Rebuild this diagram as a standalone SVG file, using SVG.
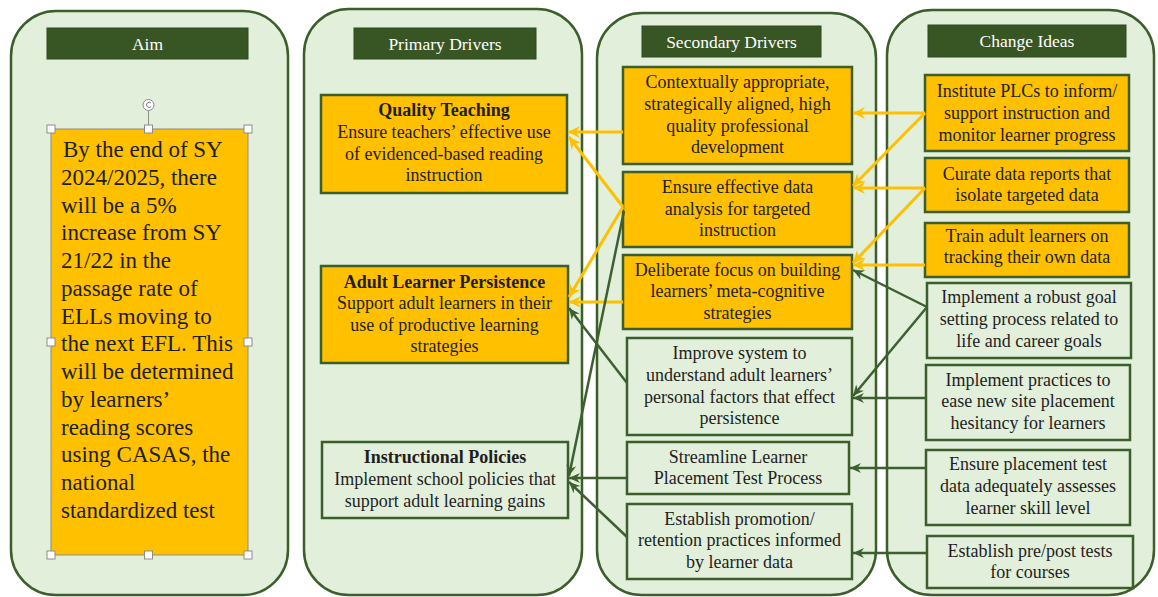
<svg xmlns="http://www.w3.org/2000/svg" width="1158" height="597" viewBox="0 0 1158 597">
  <style>
    .panel { fill: #e2efda; stroke: #3b5e2b; stroke-width: 2.5; }
    .hdr { fill: #375623; stroke: #2f4a1e; stroke-width: 1; }
    .hdrt { fill: #ffffff; font-family: "Liberation Serif", serif; font-size: 17.5px; text-anchor: middle; }
    .bo { fill: #ffc000; stroke: #3b5e2b; stroke-width: 2.5; }
    .bg { fill: #e2efda; stroke: #3b5e2b; stroke-width: 2.5; }
    .t { font-family: "Liberation Serif", serif; font-size: 18px; fill: #1e1e1e; text-anchor: middle; }
    .b { font-weight: bold; }
    .aim { font-family: "Liberation Serif", serif; font-size: 23px; fill: #1e1e1e; }
    .y { stroke: #ffc000; stroke-width: 3; fill: none; marker-end: url(#ay); }
    .g { stroke: #3d6030; stroke-width: 2.5; fill: none; marker-end: url(#ag); }
    .h { fill: #ffffff; stroke: #8c8c8c; stroke-width: 1; }
  </style>
  <defs>
    <marker id="ay" markerUnits="userSpaceOnUse" markerWidth="14" markerHeight="14" refX="12" refY="7" orient="auto">
      <path d="M0,1 L12,7 L0,13 L4,7 z" fill="#ffc000"/>
    </marker>
    <marker id="ag" markerUnits="userSpaceOnUse" markerWidth="14" markerHeight="14" refX="11" refY="6" orient="auto">
      <path d="M0,1 L11,6 L0,11 L3.5,6 z" fill="#3d6030"/>
    </marker>
  </defs>

  <!-- column panels -->
  <g id="panels">
    <rect class="panel" x="11" y="11" width="277" height="584" rx="45" ry="45"/>
    <rect class="panel" x="304" y="9" width="278" height="586" rx="45" ry="45"/>
    <rect class="panel" x="597" y="13" width="279" height="582" rx="45" ry="45"/>
    <rect class="panel" x="887" y="10" width="267" height="585" rx="45" ry="45"/>
  </g>

  <!-- column headers -->
  <g id="headers">
    <rect class="hdr" x="47" y="28" width="201" height="31"/>
    <text class="hdrt" x="147.5" y="49.5">Aim</text>
    <rect class="hdr" x="354" y="28" width="182" height="31"/>
    <text class="hdrt" x="445" y="49.5">Primary Drivers</text>
    <rect class="hdr" x="642" y="26" width="179" height="31"/>
    <text class="hdrt" x="731.5" y="47.5">Secondary Drivers</text>
    <rect class="hdr" x="928" y="25" width="198" height="32"/>
    <text class="hdrt" x="1027" y="46.5">Change Ideas</text>
  </g>

  <!-- aim statement with selection handles -->
  <g id="aim">
    <rect x="51" y="129" width="197" height="426" fill="#ffc000" stroke="#8c8c8c" stroke-width="1"/>
    <text class="aim">
      <tspan x="63" y="157">By the end of SY</tspan>
      <tspan x="61" y="184.8">2024/2025, there</tspan>
      <tspan x="61" y="212.5">will be a 5%</tspan>
      <tspan x="61" y="240.3">increase from SY</tspan>
      <tspan x="61" y="268">21/22 in the</tspan>
      <tspan x="61" y="295.8">passage rate of</tspan>
      <tspan x="61" y="323.5">ELLs moving to</tspan>
      <tspan x="61" y="351.3">the next EFL. This</tspan>
      <tspan x="61" y="379">will be determined</tspan>
      <tspan x="61" y="406.8">by learners’</tspan>
      <tspan x="61" y="434.5">reading scores</tspan>
      <tspan x="61" y="462.3">using CASAS, the</tspan>
      <tspan x="61" y="490">national</tspan>
      <tspan x="61" y="517.8">standardized test</tspan>
    </text>
    <line x1="148.5" y1="110" x2="148.5" y2="129" stroke="#8c8c8c" stroke-width="1"/>
    <circle cx="148.5" cy="105" r="5.5" fill="#ffffff" stroke="#8c8c8c" stroke-width="1"/>
    <path d="M151,103 A2.6,2.6 0 1 0 151.2,106.5" fill="none" stroke="#7a7a7a" stroke-width="1"/>
    <rect class="h" x="47" y="125" width="8" height="8"/>
    <rect class="h" x="144.5" y="125" width="8" height="8"/>
    <rect class="h" x="244" y="125" width="8" height="8"/>
    <rect class="h" x="47" y="338" width="8" height="8"/>
    <rect class="h" x="244" y="338" width="8" height="8"/>
    <rect class="h" x="47" y="551" width="8" height="8"/>
    <rect class="h" x="144.5" y="551" width="8" height="8"/>
    <rect class="h" x="244" y="551" width="8" height="8"/>
  </g>

  <!-- primary drivers -->
  <g id="p-quality-teaching">
    <rect class="bo" x="321" y="95" width="246" height="98"/>
    <text class="t"><tspan class="b" x="444" y="116">Quality Teaching</tspan><tspan x="444" y="138">Ensure teachers’ effective use</tspan><tspan x="444" y="160">of evidenced-based reading</tspan><tspan x="444" y="181">instruction</tspan></text>
  </g>
  <g id="p-adult-learner-persistence">
    <rect class="bo" x="321" y="266" width="247" height="97"/>
    <text class="t"><tspan class="b" x="444.5" y="288">Adult Learner Persistence</tspan><tspan x="444.5" y="309">Support adult learners in their</tspan><tspan x="444.5" y="331">use of productive learning</tspan><tspan x="444.5" y="352">strategies</tspan></text>
  </g>
  <g id="p-instructional-policies">
    <rect class="bg" x="322" y="442" width="246" height="76"/>
    <text class="t"><tspan class="b" x="445" y="463">Instructional Policies</tspan><tspan x="445" y="485">Implement school policies that</tspan><tspan x="445" y="507">support adult learning gains</tspan></text>
  </g>

  <!-- secondary drivers -->
  <g id="s-professional-development">
    <rect class="bo" x="623" y="67" width="229" height="97"/>
    <text class="t"><tspan x="737.5" y="88">Contextually appropriate,</tspan><tspan x="737.5" y="110">strategically aligned, high</tspan><tspan x="737.5" y="132">quality professional</tspan><tspan x="737.5" y="153">development</tspan></text>
  </g>
  <g id="s-data-analysis">
    <rect class="bo" x="623" y="172" width="229" height="75"/>
    <text class="t"><tspan x="737.5" y="193">Ensure effective data</tspan><tspan x="737.5" y="215">analysis for targeted</tspan><tspan x="737.5" y="236">instruction</tspan></text>
  </g>
  <g id="s-meta-cognitive">
    <rect class="bo" x="623" y="255" width="229" height="74"/>
    <text class="t"><tspan x="737.5" y="276">Deliberate focus on building</tspan><tspan x="737.5" y="297">learners’ meta-cognitive</tspan><tspan x="737.5" y="319">strategies</tspan></text>
  </g>
  <g id="s-personal-factors">
    <rect class="bg" x="627" y="338" width="225" height="97"/>
    <text class="t"><tspan x="739.5" y="359">Improve system to</tspan><tspan x="739.5" y="381">understand adult learners’</tspan><tspan x="739.5" y="403">personal factors that effect</tspan><tspan x="739.5" y="424">persistence</tspan></text>
  </g>
  <g id="s-placement-test">
    <rect class="bg" x="627" y="442" width="222" height="52"/>
    <text class="t"><tspan x="738" y="463">Streamline Learner</tspan><tspan x="738" y="484">Placement Test Process</tspan></text>
  </g>
  <g id="s-promotion-retention">
    <rect class="bg" x="627" y="504" width="225" height="75"/>
    <text class="t"><tspan x="739.5" y="525">Establish promotion/</tspan><tspan x="739.5" y="546">retention practices informed</tspan><tspan x="739.5" y="568">by learner data</tspan></text>
  </g>

  <!-- change ideas -->
  <g id="c-plcs">
    <rect class="bo" x="925" y="75" width="204" height="76"/>
    <text class="t"><tspan x="1027" y="97">Institute PLCs to inform/</tspan><tspan x="1027" y="119">support instruction and</tspan><tspan x="1027" y="141">monitor learner progress</tspan></text>
  </g>
  <g id="c-data-reports">
    <rect class="bo" x="925" y="158" width="204" height="54"/>
    <text class="t"><tspan x="1027" y="180">Curate data reports that</tspan><tspan x="1027" y="201">isolate targeted data</tspan></text>
  </g>
  <g id="c-train-learners">
    <rect class="bo" x="925" y="223" width="204" height="54"/>
    <text class="t"><tspan x="1027" y="242">Train adult learners on</tspan><tspan x="1027" y="263">tracking their own data</tspan></text>
  </g>
  <g id="c-goal-setting">
    <rect class="bg" x="927" y="283" width="204" height="75"/>
    <text class="t"><tspan x="1029" y="303">Implement a robust goal</tspan><tspan x="1029" y="325">setting process related to</tspan><tspan x="1029" y="347">life and career goals</tspan></text>
  </g>
  <g id="c-site-placement">
    <rect class="bg" x="926" y="365" width="204" height="75"/>
    <text class="t"><tspan x="1028" y="386">Implement practices to</tspan><tspan x="1028" y="407">ease new site placement</tspan><tspan x="1028" y="429">hesitancy for learners</tspan></text>
  </g>
  <g id="c-test-data">
    <rect class="bg" x="926" y="450" width="204" height="75"/>
    <text class="t"><tspan x="1028" y="470">Ensure placement test</tspan><tspan x="1028" y="492">data adequately assesses</tspan><tspan x="1028" y="514">learner skill level</tspan></text>
  </g>
  <g id="c-pre-post">
    <rect class="bg" x="927" y="536" width="206" height="52"/>
    <text class="t"><tspan x="1030" y="557">Establish pre/post tests</tspan><tspan x="1030" y="578">for courses</tspan></text>
  </g>

  <!-- connectors -->
  <g id="connectors">
    <!-- secondary to primary -->
    <line class="y" x1="623" y1="132" x2="568" y2="132"/>
    <line class="y" x1="623" y1="207" x2="569" y2="137"/>
    <line class="y" x1="623" y1="207" x2="569" y2="297"/>
    <line class="y" x1="623" y1="302" x2="569" y2="302"/>
    <line class="g" x1="624" y1="211" x2="569" y2="476"/>
    <line class="g" x1="627" y1="383" x2="569" y2="308"/>
    <line class="g" x1="627" y1="478" x2="569" y2="478"/>
    <line class="g" x1="627" y1="537" x2="569" y2="482"/>
    <!-- change ideas to secondary -->
    <line class="y" x1="925" y1="113" x2="853" y2="113"/>
    <line class="y" x1="925" y1="113" x2="853" y2="186"/>
    <line class="y" x1="925" y1="188" x2="853" y2="188"/>
    <line class="y" x1="925" y1="188" x2="853" y2="263"/>
    <line class="y" x1="925" y1="265" x2="853" y2="265"/>
    <line class="g" x1="927" y1="307" x2="853" y2="270"/>
    <line class="g" x1="927" y1="307" x2="853" y2="396"/>
    <line class="g" x1="926" y1="398" x2="853" y2="398"/>
    <line class="g" x1="926" y1="468" x2="850" y2="468"/>
    <line class="g" x1="927" y1="553" x2="853" y2="553"/>
  </g>
</svg>
